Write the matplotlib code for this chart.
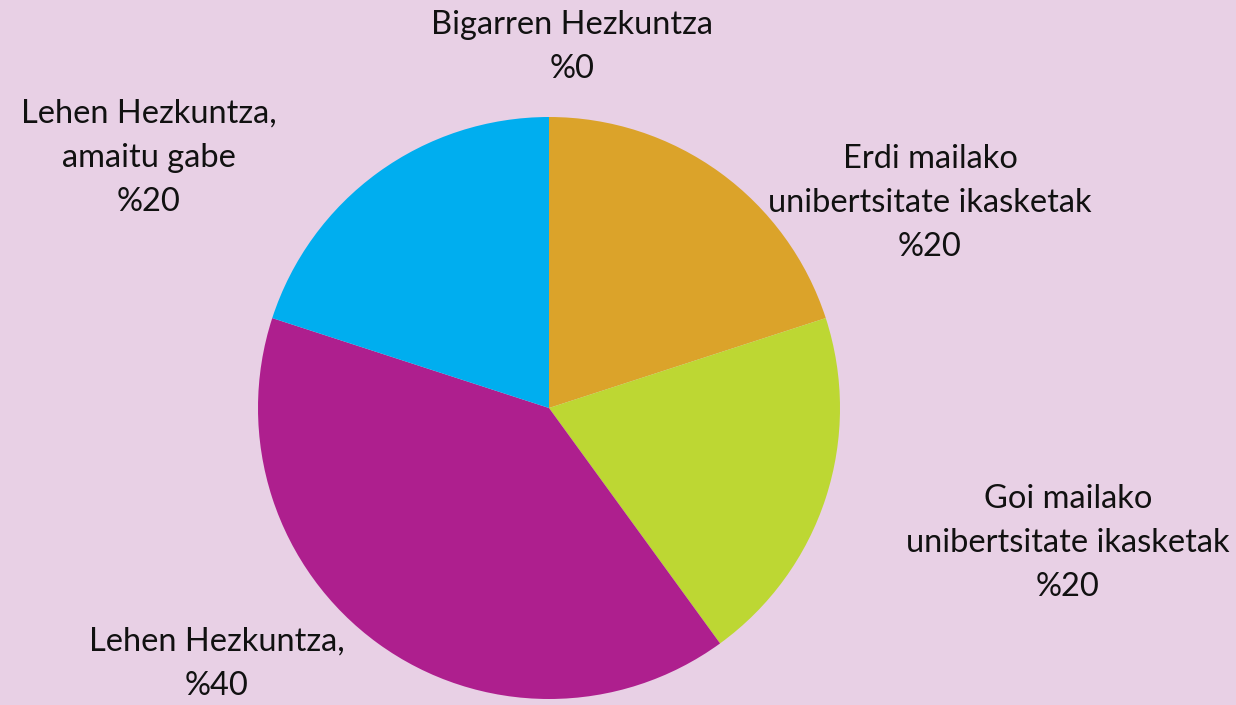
import matplotlib.pyplot as plt

labels = ["Bigarren Hezkuntza", "Erdi mailako\nunibertsitate ikasketak", "Goi mailako\nunibertsitate ikasketak",
          "Lehen Hezkuntza,", "Lehen Hezkuntza,\namaitu gabe"]
values = [0, 20, 20, 40, 20]
colors = ["#f0c000", "#dba32a", "#bdd733", "#ae1f8e", "#00aeef"]

# label anchor points in pixels (top-left origin)
label_pos = [(572, 47), (930, 203), (1068, 543), (217, 664), (149, 158)]

W, H = 1236, 705
bg = "#e8d0e5"

fig = plt.figure(figsize=(W / 100, H / 100), dpi=100)
fig.set_facecolor(bg)
ax = fig.add_axes([0, 0, 1, 1])
ax.set_facecolor(bg)

ax.pie(values, colors=colors, startangle=90, counterclock=False,
       center=(549, H - 408), radius=291, frame=True,
       wedgeprops=dict(linewidth=0))
ax.set_xlim(0, W)
ax.set_ylim(0, H)
ax.set_aspect('equal')
ax.axis('off')

for lab, v, (x, y) in zip(labels, values, label_pos):
    ax.text(x, H - y, lab + "\n%" + str(v), ha='center', va='center',
            fontsize=23.5, family=['Lato', 'DejaVu Sans'], color='#111111',
            linespacing=1.6)

fig.savefig('out.png', dpi=100, facecolor=bg)
